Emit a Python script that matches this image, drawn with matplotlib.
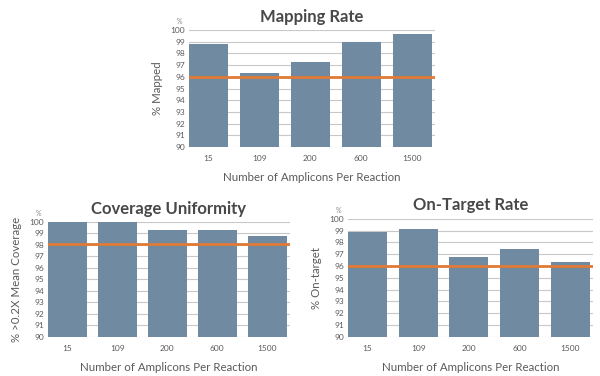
import numpy as np
import matplotlib.pyplot as plt

plt.rcParams['font.family'] = ['Lato', 'DejaVu Sans']

categories = ['15', '109', '200', '600', '1500']
mapping_rate = [98.8, 96.3, 97.25, 99.0, 99.7]
coverage_uniformity = [100.0, 100.0, 99.3, 99.3, 98.8]
on_target_rate = [98.9, 99.15, 96.8, 97.45, 96.35]
thresholds = [96.0, 98.1, 96.0]

titles = ['Mapping Rate', 'Coverage Uniformity', 'On-Target Rate']
ylabels = ['% Mapped', '% >0.2X Mean Coverage', '% On-target']
xlabel = 'Number of Amplicons Per Reaction'
yticks = list(range(90, 101))

bar_color = '#6f8aa1'
line_color = '#e07a35'
text_color = '#5a5a5a'

fig = plt.figure(figsize=(6, 3.76), dpi=100)
positions = [
    [0.315, 0.609, 0.41, 0.311],
    [0.08, 0.104, 0.403, 0.306],
    [0.58, 0.104, 0.408, 0.314],
]
series = [mapping_rate, coverage_uniformity, on_target_rate]

for pos, vals, thr, title, ylab in zip(positions, series, thresholds, titles, ylabels):
    ax = fig.add_axes(pos)
    x = np.arange(len(categories))
    ax.bar(x, np.array(vals) - 90, bottom=90, width=0.77, color=bar_color, zorder=2)
    ax.axhline(thr, color=line_color, lw=2, zorder=3)
    ax.set_ylim(90, 100)
    ax.set_xlim(-0.385, 4.45)
    ax.set_yticks(yticks)
    ax.set_xticks(x)
    ax.set_xticklabels(categories)
    ax.grid(axis='y', color='#c8c8c8', lw=0.8, zorder=0)
    ax.set_axisbelow(True)
    for s in ax.spines.values():
        s.set_visible(False)
    ax.tick_params(length=0, labelsize=6, colors=text_color, pad=3)
    ax.tick_params(axis='x', pad=6)
    ax.set_title(title, fontsize=12, fontweight='bold', color='#484848', pad=6)
    ax.set_ylabel(ylab, fontsize=8.3, color=text_color, labelpad=5)
    ax.set_xlabel(xlabel, fontsize=8.3, color=text_color, labelpad=7)
    ax.text(-0.04, 1.07, '%', transform=ax.transAxes, fontsize=5,
            color='#888888', ha='center', va='center')

fig.savefig('out.png', dpi=100)
